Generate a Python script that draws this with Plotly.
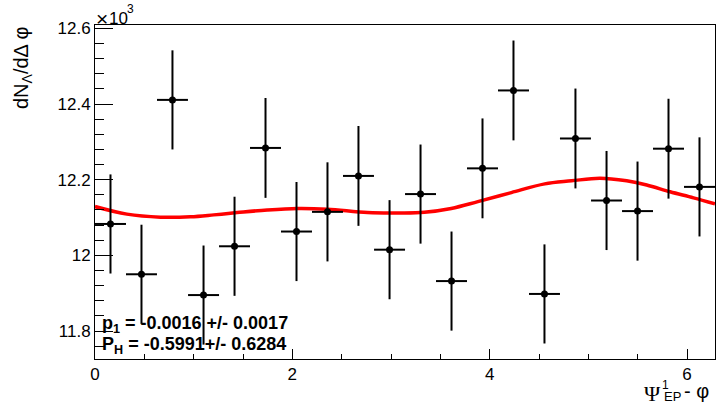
import plotly.graph_objects as go

# Bin centres of dN/dΔφ histogram (20 bins over 0..2π)
phi_centres = [0.157, 0.471, 0.785, 1.100, 1.414, 1.728, 2.042, 2.356, 2.670, 2.985,
               3.299, 3.613, 3.927, 4.241, 4.555, 4.869, 5.184, 5.498, 5.812, 6.126]
bin_half_width = [0.157] * 20
# Counts in units of 10^3
counts = [12.083, 11.950, 12.411, 11.895, 12.024, 12.284, 12.063, 12.115, 12.210, 12.015,
          12.162, 11.932, 12.230, 12.436, 11.898, 12.309, 12.145, 12.117, 12.282, 12.181]
count_err = [0.131, 0.131, 0.131, 0.131, 0.131, 0.132, 0.131, 0.131, 0.132, 0.131,
             0.131, 0.131, 0.132, 0.132, 0.131, 0.132, 0.131, 0.131, 0.132, 0.131]

# Fitted curve samples
fit_x = [0.000, 0.323, 0.663, 0.967, 1.204, 1.441, 1.746, 2.051, 2.356, 2.762,
         3.102, 3.338, 3.610, 3.880, 4.220, 4.558, 4.829, 5.117, 5.388, 5.591,
         5.828, 6.065, 6.283]
fit_y = [12.129, 12.109, 12.101, 12.102, 12.107, 12.113, 12.120, 12.124, 12.122, 12.113,
         12.112, 12.114, 12.124, 12.142, 12.166, 12.189, 12.197, 12.204, 12.197, 12.186,
         12.168, 12.152, 12.136]

y_tick_vals = [11.8, 12.0, 12.2, 12.4, 12.6]
y_tick_text = ["11.8", "12", "12.2", "12.4", "12.6"]
x_tick_vals = [0, 2, 4, 6]
x_tick_text = ["0", "2", "4", "6"]

fig = go.Figure()

fig.add_trace(go.Scatter(
    x=fit_x, y=fit_y, mode="lines",
    line=dict(color="#ff0000", width=3.5, shape="spline", smoothing=1.0),
    hoverinfo="skip", showlegend=False,
))

fig.add_trace(go.Scatter(
    x=phi_centres, y=counts, mode="markers",
    marker=dict(color="black", size=7, symbol="circle"),
    error_y=dict(type="data", array=count_err, color="black", thickness=2, width=0),
    error_x=dict(type="data", array=bin_half_width, color="black", thickness=2, width=0),
    showlegend=False,
))

W, H = 717, 410
ml, mr, mt, mb = 95, 2, 25, 51
pw, ph = W - ml - mr, H - mt - mb


def px(xp):
    return (xp - ml) / pw


def py(yp):
    return 1 - (yp - mt) / ph


font_sans = "Liberation Sans, Arial, Helvetica, sans-serif"
font_serif = "Liberation Serif, Times New Roman, serif"

annotations = [
    # y-axis title
    dict(text="dN<sub>Λ</sub>/dΔ φ", textangle=-90, x=px(22), y=py(25),
         xanchor="center", yanchor="top", font=dict(family=font_sans, size=20, color="black")),
    # exponent marker: "×", "10" and a raised "3"
    dict(text="×", x=px(94), y=py(18), xanchor="left", yanchor="middle",
         font=dict(family=font_sans, size=21, color="black")),
    dict(text="10", x=px(107), y=py(18), xanchor="left", yanchor="middle",
         font=dict(family=font_sans, size=17, color="black")),
    dict(text="3", x=px(125), y=py(9), xanchor="left", yanchor="middle",
         font=dict(family=font_sans, size=12, color="black")),
    # x-axis title pieces
    dict(text="Ψ", x=px(652), y=py(393), xanchor="center", yanchor="middle",
         font=dict(family=font_serif, size=22, color="black")),
    dict(text="1", x=px(665.5), y=py(385), xanchor="center", yanchor="middle",
         font=dict(family=font_sans, size=12, color="black")),
    dict(text="EP", x=px(662), y=py(397), xanchor="left", yanchor="middle",
         font=dict(family=font_sans, size=13, color="black")),
    dict(text="- φ", x=px(682), y=py(391), xanchor="left", yanchor="middle",
         font=dict(family=font_sans, size=20, color="black")),
    # fit parameters
    dict(text="<b>p<sub>1</sub> = -0.0016 +/- 0.0017</b>", x=px(100), y=py(324),
         xanchor="left", yanchor="middle", font=dict(family=font_sans, size=18, color="black")),
    dict(text="<b>P<sub>H</sub> = -0.5991+/- 0.6284</b>", x=px(100), y=py(345),
         xanchor="left", yanchor="middle", font=dict(family=font_sans, size=18, color="black")),
]
for a in annotations:
    a.update(xref="paper", yref="paper", showarrow=False)

fig.update_layout(
    width=W, height=H,
    margin=dict(l=ml, r=mr, t=mt, b=mb, pad=0),
    paper_bgcolor="white", plot_bgcolor="white",
    font=dict(family=font_sans, size=17, color="black"),
    annotations=annotations,
    xaxis=dict(
        range=[0, 6.2832], showgrid=False, zeroline=False,
        showline=True, mirror=True, linecolor="black", linewidth=1,
        ticks="inside", ticklen=10, tickwidth=1, tickcolor="black",
        tickvals=x_tick_vals, ticktext=x_tick_text,
        tickfont=dict(family=font_sans, size=17, color="black"),
        minor=dict(ticks="inside", ticklen=5, tickwidth=1, tickcolor="black",
                   dtick=0.5, tick0=0, showgrid=False),
    ),
    yaxis=dict(
        range=[11.726, 12.609], showgrid=False, zeroline=False,
        showline=True, mirror=True, linecolor="black", linewidth=1,
        ticks="inside", ticklen=18, tickwidth=1, tickcolor="black",
        tickvals=y_tick_vals, ticktext=y_tick_text,
        tickfont=dict(family=font_sans, size=17, color="black"),
        minor=dict(ticks="inside", ticklen=9, tickwidth=1, tickcolor="black",
                   dtick=0.04, tick0=11.8, showgrid=False),
    ),
)

fig.write_html("out.html")
